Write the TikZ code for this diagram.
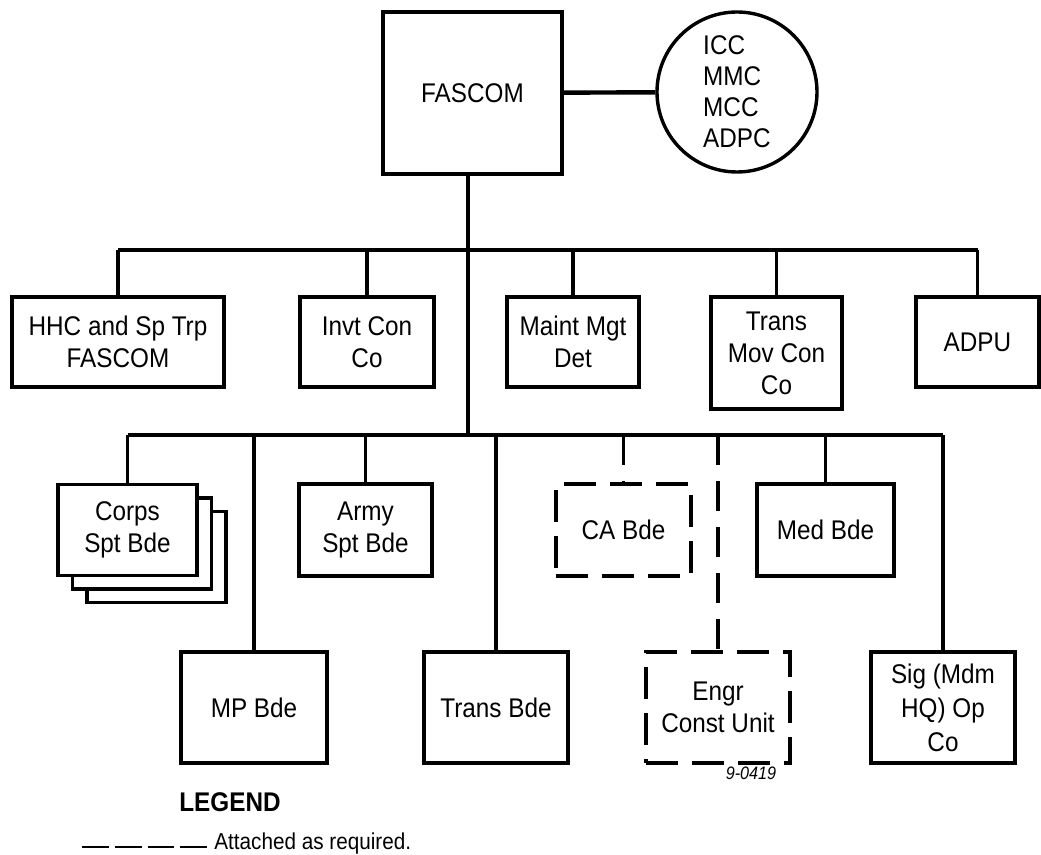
\documentclass[tikz,border=0pt]{standalone}
\usepackage{fontspec}
\setmainfont{Liberation Sans}[FakeStretch=0.9]
\usetikzlibrary{shadows}
\begin{document}
\begin{tikzpicture}[x=0.5pt, y=-0.5pt,
    unit/.style={draw, line width=1.7pt, fill=white, align=center, inner sep=0pt,
      font=\fontsize{13.5}{16}\selectfont},
    attached/.style={unit, dash pattern=on 16pt off 7pt},
    link/.style={line width=1.9pt},
    optlink/.style={line width=1.9pt, dash pattern=on 15pt off 8pt},
    legendline/.style={line width=1.4pt, dash pattern=on 13.4pt off 3pt}]

        \useasboundingbox (0,0) rectangle (1041,855);

        %Command and its centers
        \node [unit, minimum width=89.5pt, minimum height=81pt] (fascom) at (472.5,93) {FASCOM};
        \node [draw, circle, line width=1.7pt, minimum size=80pt, inner sep=0pt, align=left,
          font=\fontsize{13.5}{15.5}\selectfont] (centers) at (737,92) {ICC\\MMC\\MCC\\ADPC};
        \draw [link, line width=2.2pt] (fascom) -- (centers);

        %Spine
        \coordinate (spine) at (468,250);
        \coordinate (bus) at (468,435);
        \draw [link] (spine |- fascom.south) -- (bus);

        %Staff row
        \node [unit, minimum width=106pt, minimum height=45pt] (hhc) at (118,342) {HHC and Sp Trp\\FASCOM};
        \node [unit, minimum width=67pt, minimum height=45pt] (invt) at (367,342) {Invt Con\\Co};
        \node [unit, minimum width=66pt, minimum height=45pt] (maint) at (573,342) {Maint Mgt\\Det};
        \node [unit, minimum width=65.5pt, minimum height=56pt] (transmov) at (776.5,353) {Trans\\Mov Con\\Co};
        \node [unit, minimum width=61.5pt, minimum height=45pt] (adpu) at (977.5,342) {ADPU};
        \draw [link] (hhc.north |- spine) -- (adpu.north |- spine);
        \foreach \n in {hhc,invt,maint,transmov,adpu}
          \draw [link] (\n.north) -- (\n.north |- spine);

        %Brigades
        \node [unit, minimum width=69.5pt, minimum height=45.5pt,
          copy shadow={shadow xshift=14.5pt, shadow yshift=-13.5pt, line width=1.7pt},
          copy shadow={shadow xshift=7.25pt, shadow yshift=-6.75pt, line width=1.7pt}]
          (corps) at (127.5,530) {Corps\\Spt Bde};
        \node [unit, minimum width=66.5pt, minimum height=46pt] (army) at (365.5,530) {Army\\Spt Bde};
        \node [attached, minimum width=67.5pt, minimum height=46pt] (ca) at (623.5,530) {CA Bde};
        \node [unit, minimum width=68.5pt, minimum height=46pt] (med) at (825.5,530) {Med Bde};

        \node [unit, minimum width=73pt, minimum height=55.5pt] (mp) at (254,707.5) {MP Bde};
        \node [unit, minimum width=72pt, minimum height=55.5pt] (transbde) at (496,707.5) {Trans Bde};
        \node [attached, minimum width=72pt, minimum height=55.5pt] (engr) at (718,707.5) {Engr\\Const Unit};
        \node [unit, minimum width=72pt, minimum height=55.5pt, font=\fontsize{13.5}{17}\selectfont] (sig) at (943,707.5) {Sig (Mdm\\HQ) Op\\Co};

        \draw [link] (corps.north |- bus) -- (sig.north |- bus);
        \foreach \n in {corps,army,med,mp,transbde,sig}
          \draw [link] (\n.north) -- (\n.north |- bus);
        \foreach \n in {ca,engr}
          \draw [optlink] (\n.north |- bus) -- (\n.north);

        %Drawing number
        \node [font=\itshape\fontsize{9}{10}\selectfont] (tag) at (751,773) {9-0419};

        %Legend
        \node [font=\bfseries\fontsize{13.5}{15}\selectfont] (legend) at (230,802) {LEGEND};
        \node [anchor=base west, inner sep=3.5pt, font=\fontsize{11.5}{14}\selectfont] (note) at (207,850) {Attached as required.};
        \coordinate (key) at (82,847);
        \draw [legendline] (key) -- (key -| note.west);

      \end{tikzpicture}
\end{document}
